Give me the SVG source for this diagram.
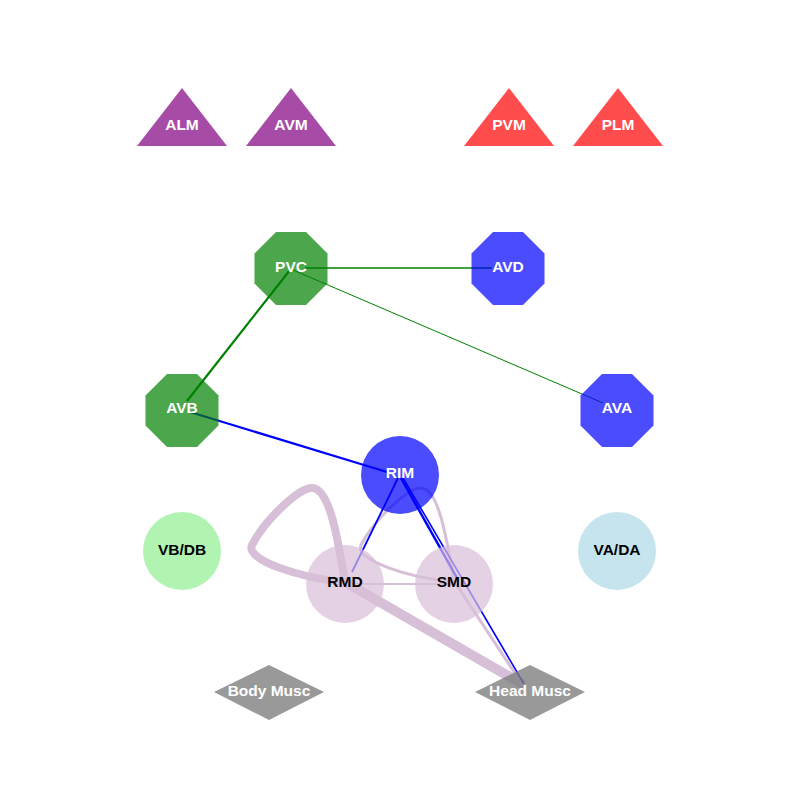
<svg xmlns="http://www.w3.org/2000/svg" width="800" height="800" viewBox="0 0 800 800">
<style>
text{font-family:"Liberation Sans",Arial,sans-serif;font-weight:bold;font-size:15.5px;text-anchor:middle;dominant-baseline:central}
.w{fill:#fff}.k{fill:#000}
.n{opacity:0.7}
.e{fill:none;stroke-linecap:butt}
.th{stroke:#d8bfd8;fill:none;stroke-linejoin:round}
</style>
<rect width="800" height="800" fill="#fff"/>
<g id="edges">
<path class="th" d="M345,582 C338,540 330,490 313,488 C300,486 265,520 252,545 C245,560 300,578 345,582" stroke-width="8"/>
<path class="th" d="M454,582 C447,540 439,490 422,488 C409,486 374,520 361,545 C354,560 409,578 454,582" stroke-width="3"/>
<line class="th" x1="345" y1="582" x2="524" y2="685" stroke-width="10"/>
<line class="th" x1="345" y1="584" x2="454" y2="584" stroke-width="2"/>
<line class="th" x1="456" y1="584" x2="522" y2="684" stroke-width="3"/>
<line x1="305" y1="268" x2="492" y2="268" stroke="green" stroke-width="1.6"/>
<line x1="293" y1="270" x2="603" y2="403" stroke="green" stroke-width="1"/>
<line x1="290" y1="270" x2="187" y2="401" stroke="green" stroke-width="2.2"/>
<line x1="190" y1="412" x2="387" y2="472" stroke="blue" stroke-width="2.2"/>
<line x1="398" y1="478" x2="352" y2="572" stroke="blue" stroke-width="1.8"/>
<line x1="401" y1="478" x2="457" y2="578" stroke="blue" stroke-width="2.5"/>
<line x1="403" y1="478" x2="524" y2="684" stroke="blue" stroke-width="1.6"/>
</g>
<g id="ALM"><polygon class="n" points="182,88 227,146 137,146" fill="purple"/><text class="w" x="182" y="124">ALM</text></g>
<g id="AVM"><polygon class="n" points="291,88 336,146 246,146" fill="purple"/><text class="w" x="291" y="124">AVM</text></g>
<g id="PVM"><polygon class="n" points="509,88 554,146 464,146" fill="red"/><text class="w" x="509" y="124">PVM</text></g>
<g id="PLM"><polygon class="n" points="618,88 663,146 573,146" fill="red"/><text class="w" x="618" y="124">PLM</text></g>
<g id="PVC"><polygon class="n" points="276,232 306,232 327.5,253.5 327.5,283.5 306,305 276,305 254.5,283.5 254.5,253.5" fill="green"/><text class="w" x="291" y="266">PVC</text></g>
<g id="AVD"><polygon class="n" points="493,232 523,232 544.5,253.5 544.5,283.5 523,305 493,305 471.5,283.5 471.5,253.5" fill="blue"/><text class="w" x="508" y="266">AVD</text></g>
<g id="AVB"><polygon class="n" points="167,374 197,374 218.5,395.5 218.5,425.5 197,447 167,447 145.5,425.5 145.5,395.5" fill="green"/><text class="w" x="182" y="407">AVB</text></g>
<g id="AVA"><polygon class="n" points="602,374 632,374 653.5,395.5 653.5,425.5 632,447 602,447 580.5,425.5 580.5,395.5" fill="blue"/><text class="w" x="617" y="407">AVA</text></g>
<g id="RIM"><circle class="n" cx="400" cy="475" r="39" fill="blue"/><text class="w" x="400" y="472">RIM</text></g>
<g id="VBDB"><circle class="n" cx="182" cy="551" r="39" fill="#90ee90"/><text class="k" x="182" y="549">VB/DB</text></g>
<g id="VADA"><circle class="n" cx="617" cy="551" r="39" fill="#add8e6"/><text class="k" x="617" y="549">VA/DA</text></g>
<g id="RMD"><circle class="n" cx="345" cy="584" r="39" fill="#d8bfd8"/><text class="k" x="345" y="581">RMD</text></g>
<g id="SMD"><circle class="n" cx="454" cy="584" r="39" fill="#d8bfd8"/><text class="k" x="454" y="581">SMD</text></g>
<g id="BodyMusc"><polygon points="269,665 324,692 269,720 214,692" fill="#808080" opacity="0.8"/><text class="w" x="269" y="690">Body Musc</text></g>
<g id="HeadMusc"><polygon points="530,665 585,692 530,720 475,692" fill="#808080" opacity="0.8"/><text class="w" x="530" y="690">Head Musc</text></g>
</svg>
